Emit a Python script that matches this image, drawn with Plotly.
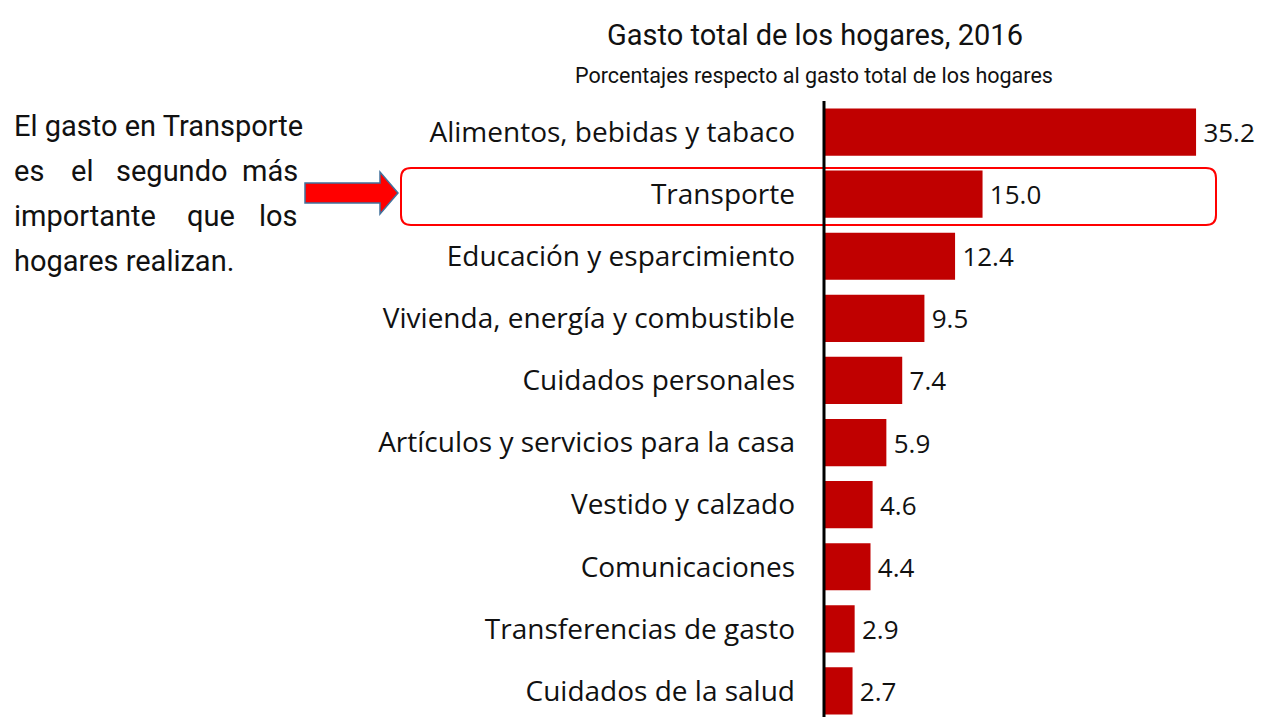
import plotly.graph_objects as go

# Household spending shares, 2016 (percent of total)
categories = [
    "Alimentos, bebidas y tabaco",
    "Transporte",
    "Educación y esparcimiento",
    "Vivienda, energía y combustible",
    "Cuidados personales",
    "Artículos y servicios para la casa",
    "Vestido y calzado",
    "Comunicaciones",
    "Transferencias de gasto",
    "Cuidados de la salud",
]
values = [35.2, 15.0, 12.4, 9.5, 7.4, 5.9, 4.6, 4.4, 2.9, 2.7]
value_labels = [f"{v:.1f}" for v in values]

W, H = 1262, 717
ML, MT = 824, 101
PW, PH = W - ML, H - MT

NARROW = "Roboto, Lato, sans-serif"
BODY = "Open Sans, Noto Sans, sans-serif"


def px(x):
    return (x - ML) / PW


def py(y):
    return (H - y) / PH


fig = go.Figure(
    go.Bar(
        x=values,
        y=categories,
        orientation="h",
        marker=dict(color="#C00000", line=dict(width=0)),
        text=["\u2009" + t for t in value_labels],
        textposition="outside",
        textfont=dict(family=BODY, size=26, color="#111111"),
        cliponaxis=False,
        width=0.76,
    )
)

annotations = [
    dict(text="Gasto total de los hogares, 2016", x=px(815), y=py(35),
         font=dict(family=NARROW, size=29, color="#111111")),
    dict(text="Porcentajes respecto al gasto total de los hogares", x=px(814), y=py(75),
         font=dict(family=NARROW, size=21.5, color="#111111")),
]

# Side note, justified by placing words individually
note_font = dict(family=NARROW, size=29, color="#111111")
note_lines = [
    (126, [("El gasto en Transporte", 12, "left")]),
    (171, [("es", 12, "left"), ("el", 82, "center"), ("segundo", 172, "center"), ("más", 300, "right")]),
    (216, [("importante", 12, "left"), ("que", 211, "center"), ("los", 300, "right")]),
    (261, [("hogares realizan.", 12, "left")]),
]
for yy, words in note_lines:
    for w, xx, anchor in words:
        annotations.append(dict(text=w, x=px(xx), y=py(yy), xanchor=anchor, font=note_font))

for a in annotations:
    a.setdefault("xanchor", "center")
    a.update(xref="paper", yref="paper", yanchor="middle", showarrow=False)


def rounded_rect(x0, y0, x1, y1, r):
    X0, X1 = px(x0), px(x1)
    Y0, Y1 = py(y0), py(y1)
    rx, ry = r / PW, r / PH
    return (
        f"M{X0 + rx},{Y0} L{X1 - rx},{Y0} Q{X1},{Y0} {X1},{Y0 - ry} "
        f"L{X1},{Y1 + ry} Q{X1},{Y1} {X1 - rx},{Y1} "
        f"L{X0 + rx},{Y1} Q{X0},{Y1} {X0},{Y1 + ry} "
        f"L{X0},{Y0 - ry} Q{X0},{Y0} {X0 + rx},{Y0} Z"
    )


arrow_pts = [(305, 183), (380, 183), (380, 172), (398, 193), (380, 214), (380, 203), (305, 203)]
arrow_path = "M" + " L".join(f"{px(a)},{py(b)}" for a, b in arrow_pts) + " Z"

shapes = [
    dict(type="path", xref="paper", yref="paper", path=rounded_rect(401, 168, 1216, 225, 10),
         line=dict(color="#FF0000", width=2), fillcolor="rgba(0,0,0,0)"),
    dict(type="path", xref="paper", yref="paper", path=arrow_path,
         line=dict(color="#41719C", width=1.5), fillcolor="#FF0000"),
    dict(type="line", xref="paper", yref="paper", x0=0, x1=0, y0=0, y1=1,
         line=dict(color="#000000", width=3)),
]

fig.update_layout(
    width=W,
    height=H,
    margin=dict(l=ML, r=0, t=MT, b=0),
    paper_bgcolor="white",
    plot_bgcolor="white",
    showlegend=False,
    annotations=annotations,
    shapes=shapes,
    xaxis=dict(range=[0, PW / 10.57], visible=False, fixedrange=True),
    yaxis=dict(
        type="category",
        range=[9.42, -0.5],
        showline=False,
        showgrid=False,
        zeroline=False,
        ticks="",
        ticklabelstandoff=28,
        tickfont=dict(family=BODY, size=28, color="#111111"),
        fixedrange=True,
    ),
)

fig.write_html("out.html")
